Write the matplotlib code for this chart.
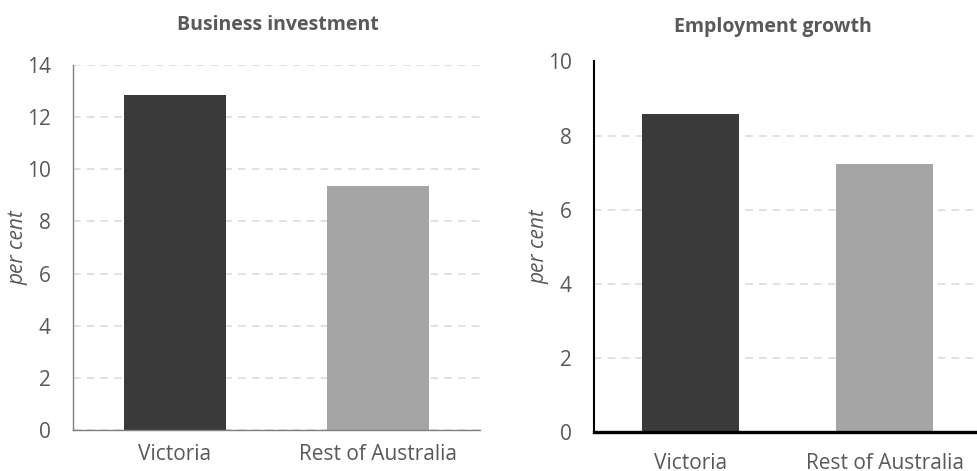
import matplotlib.pyplot as plt

# Values for the two panels
regions = ['Victoria', 'Rest of Australia']
business_investment = [12.85, 9.35]
employment_growth = [8.58, 7.22]
bar_colours = ['#3a3a3a', '#a5a5a5']

plt.rcParams['font.family'] = ['Open Sans', 'DejaVu Sans']
text_grey = '#595959'

fig = plt.figure(figsize=(9.78, 4.71), dpi=100)
W, H = 978, 471


def px_axes(left, top, right, bottom):
    # Place an axes using pixel edges measured from the top-left corner
    return fig.add_axes([left / W, 1 - bottom / H, (right - left) / W, (bottom - top) / H])


def style_panel(ax, ymax, step, spine_colour, left_lw, bottom_lw):
    ax.set_ylim(0, ymax)
    ax.set_yticks(range(0, ymax + 1, step))
    ax.yaxis.grid(True, linestyle=(0, (5, 4)), color='#d9d9d9', linewidth=1.1)
    ax.set_axisbelow(True)
    for side in ['top', 'right']:
        ax.spines[side].set_visible(False)
    ax.spines['left'].set_color(spine_colour)
    ax.spines['left'].set_linewidth(left_lw)
    ax.spines['bottom'].set_color(spine_colour)
    ax.spines['bottom'].set_linewidth(bottom_lw)
    ax.tick_params(axis='both', length=0, labelsize=15, colors=text_grey)
    ax.tick_params(axis='y', pad=16)
    ax.tick_params(axis='x', pad=10)
    ax.set_ylabel('per cent', fontsize=15, style='italic', color=text_grey, labelpad=-1)


# Business investment panel
ax1 = px_axes(73, 65, 480, 430)
ax1.bar(range(len(regions)), business_investment, width=0.5, color=bar_colours)
ax1.set_xlim(-0.5, 1.5)
ax1.set_xticks(range(len(regions)))
ax1.set_xticklabels(regions)
style_panel(ax1, 14, 2, '#808080', 1.0, 1.0)
fig.text(278 / W, 1 - 25 / H, 'Business investment', ha='center', va='center',
         fontsize=14, fontweight='bold', color=text_grey)

# Employment growth panel (runs off the right edge of the figure)
ax2 = px_axes(594, 61.5, 978, 432)
ax2.bar(range(len(regions)), employment_growth, width=0.5, color=bar_colours)
ax2.set_xlim(-0.5, 1.48)
ax2.set_xticks(range(len(regions)))
ax2.set_xticklabels(regions)
style_panel(ax2, 10, 2, 'black', 1.5, 2.4)
ax2.tick_params(axis='x', pad=15)
fig.text(773 / W, 1 - 27 / H, 'Employment growth', ha='center', va='center',
         fontsize=14, fontweight='bold', color=text_grey)

fig.savefig('out.png', dpi=100)
